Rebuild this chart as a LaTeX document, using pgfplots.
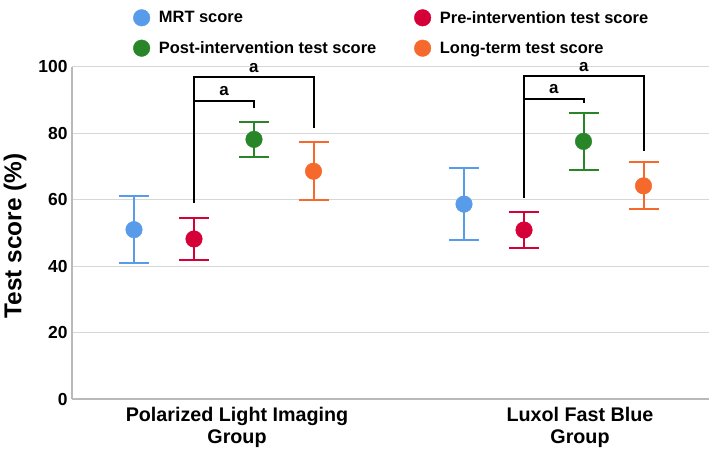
\documentclass[border=0pt]{standalone}
\usepackage{pgfplots}
\pgfplotsset{compat=1.18}
\usepackage{fontspec}
\setmainfont{Liberation Sans}
\definecolor{mrt}{RGB}{88,155,232}
\definecolor{pre}{RGB}{214,0,56}
\definecolor{post}{RGB}{40,134,40}
\definecolor{lng}{RGB}{245,105,45}
\definecolor{gridc}{RGB}{215,215,215}
\definecolor{axc}{RGB}{185,185,185}
\begin{document}
\begin{tikzpicture}
\begin{axis}[
  scale only axis,
  width=637bp, height=332bp,
  xmin=72, xmax=709, ymin=0, ymax=100,
  axis lines=left,
  axis line style={-, axc, line width=1.2pt},
  clip=false,
  ymajorgrids,
  grid style={gridc, line width=1pt},
  ytick={0,20,40,60,80,100},
  xtick={237,580},
  xticklabels={{Polarized Light Imaging\\Group},{Luxol Fast Blue\\Group}},
  major tick length=0pt,
  /pgf/number format/assume math mode=true,
  yticklabel style={font=\bfseries\fontsize{17.5}{20}\selectfont, xshift=-1bp},
  xticklabel style={font=\bfseries\fontsize{19.8}{22}\selectfont, align=center, yshift=-5bp},
  ylabel={Test score (\%)},
  ylabel style={font=\bfseries\fontsize{24.5}{28}\selectfont, at={(rel axis cs:0,0.5)}, anchor=center, yshift=57bp, xshift=-3bp},
  legend columns=2,
  legend cell align=left,
  legend style={at={(rel axis cs:0.096,1.175)}, anchor=north west, draw=none, fill=none, inner sep=0pt,
    font=\bfseries\fontsize{16.5}{19}\selectfont, row sep=13bp,
    /tikz/every odd column/.append style={column sep=7bp},
    /tikz/every even column/.append style={column sep=36bp}},
]
\coordinate (ll) at (rel axis cs:0,0);
\addlegendimage{only marks, mark=*, mark size=8.3bp, color=mrt}
\addlegendentry{MRT score}
\addlegendimage{only marks, mark=*, mark size=8.3bp, color=pre}
\addlegendentry{Pre-intervention test score}
\addlegendimage{only marks, mark=*, mark size=8.3bp, color=post}
\addlegendentry{Post-intervention test score}
\addlegendimage{only marks, mark=*, mark size=8.3bp, color=lng}
\addlegendentry{Long-term test score}

% MRT score
\addplot[forget plot, only marks, mark=*, mark size=8.3bp, color=mrt,
  error bars/.cd, y dir=both, y explicit,
  error bar style={line width=2bp, color=mrt},
  error mark options={rotate=90, mark size=15bp, line width=2bp, color=mrt}]
  coordinates {(134,51.0) +- (0,10.1) (464,58.7) +- (0,10.8)};
% Pre-intervention
\addplot[forget plot, only marks, mark=*, mark size=8.3bp, color=pre,
  error bars/.cd, y dir=both, y explicit,
  error bar style={line width=2bp, color=pre},
  error mark options={rotate=90, mark size=15bp, line width=2bp, color=pre}]
  coordinates {(194,48.2) +- (0,6.2) (524,50.9) +- (0,5.3)};
% Post-intervention
\addplot[forget plot, only marks, mark=*, mark size=8.3bp, color=post,
  error bars/.cd, y dir=both, y explicit,
  error bar style={line width=2bp, color=post},
  error mark options={rotate=90, mark size=15bp, line width=2bp, color=post}]
  coordinates {(254,78.2) +- (0,5.2) (583.5,77.6) +- (0,8.6)};
% Long-term
\addplot[forget plot, only marks, mark=*, mark size=8.3bp, color=lng,
  error bars/.cd, y dir=both, y explicit,
  error bar style={line width=2bp, color=lng},
  error mark options={rotate=90, mark size=15bp, line width=2bp, color=lng}]
  coordinates {(313.5,68.6) +- (0,8.7) (643.5,64.2) +- (0,7.05)};

% significance brackets
\addplot[forget plot, black, line width=2bp, mark=none, line join=miter] coordinates {(194,59.0) (194,97.1) (313.5,97.1) (313.5,81.5)};
\addplot[forget plot, black, line width=2bp, mark=none, line join=miter] coordinates {(194,89.9) (254,89.9) (254,87.8)};
\addplot[forget plot, black, line width=2bp, mark=none, line join=miter] coordinates {(524,60.4) (524,97.3) (643.5,97.3) (643.5,74.8)};
\addplot[forget plot, black, line width=2bp, mark=none, line join=miter] coordinates {(524,90.5) (583.5,90.5) (583.5,89.3)};
\node[anchor=base, font=\bfseries\fontsize{17}{20}\selectfont] at (axis cs:253.75,98.4) {a};
\node[anchor=base, font=\bfseries\fontsize{17}{20}\selectfont] at (axis cs:224,91.3) {a};
\node[anchor=base, font=\bfseries\fontsize{17}{20}\selectfont] at (axis cs:583.75,98.6) {a};
\node[anchor=base, font=\bfseries\fontsize{17}{20}\selectfont] at (axis cs:553.75,91.9) {a};
\end{axis}
\pgfresetboundingbox
\path (ll) ++(-72bp,-58bp) rectangle ++(709bp,457bp);
\end{tikzpicture}
\end{document}
